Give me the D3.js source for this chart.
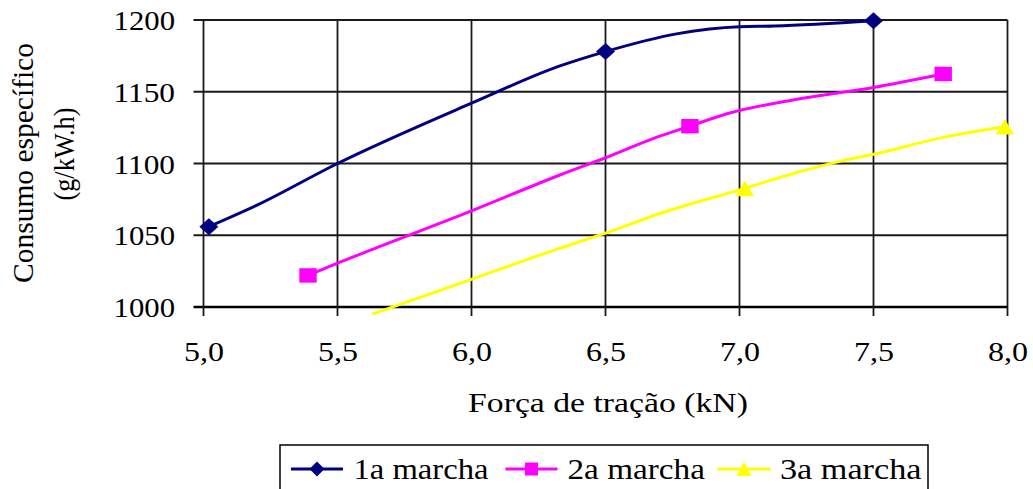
<!DOCTYPE html>
<html>
<head>
<meta charset="utf-8">
<script src="https://cdn.jsdelivr.net/npm/d3@7"></script>
<style>
  html, body { margin: 0; padding: 0; background: #fff; }
  svg { display: block; }
</style>
</head>
<body>
<svg id="chart" width="1033" height="489"></svg>
<script>
// ---------- data ----------
const xTicks = [5.0, 5.5, 6.0, 6.5, 7.0, 7.5, 8.0];
const xTickLabels = ["5,0", "5,5", "6,0", "6,5", "7,0", "7,5", "8,0"];
const yTicks = [1000, 1050, 1100, 1150, 1200];
const yTickLabels = ["1000", "1050", "1100", "1150", "1200"];
const seriesNames = ["1a marcha", "2a marcha", "3a marcha"];

// smoothed curve points (x in kN, y in g/kW.h)
const marcha1Line = [[5.02,1056],[5.2,1071],[5.5,1100],[6.0,1142],[6.33,1168],[6.5,1178],[6.77,1190.5],[7.0,1195.3],[7.13,1195.8],[7.5,1199.5]];
const marcha2Line = [[5.39,1022],[5.5,1030.5],[6.0,1067],[6.33,1092],[6.5,1104],[6.68,1117.5],[6.815,1126],[6.95,1134.5],[7.2,1144.3],[7.5,1153],[7.76,1162.4]];
const marcha3Line = [[5.63,995],[6.0,1019.3],[6.33,1041],[6.5,1051.5],[6.7,1065],[7.02,1082.7],[7.2,1093],[7.39,1102.2],[7.5,1106.4],[7.76,1118.2],[7.99,1125.6]];

// marked data points
const marcha1Points = [[5.02,1056],[6.5,1178],[7.5,1199.5]];
const marcha2Points = [[5.39,1022],[6.815,1126],[7.76,1162.4]];
const marcha3Points = [[7.02,1082.7],[7.99,1125.6]];

const FONT = "'Liberation Serif'";

// ---------- helpers ----------
// stretch text horizontally (the reference image is stretched) with a scale transform
function fit(textSel, tx, ty, targetW, rotate) {
  textSel.attr("x", 0).attr("y", 0).attr("dy", null);
  const w = textSel.node().getComputedTextLength();
  const k = targetW / w;
  textSel.attr("transform", rotate
    ? `translate(${tx},${ty}) rotate(-90) scale(${k},1)`
    : `translate(${tx},${ty}) scale(${k},1)`);
}

// ---------- layout ----------
const svg = d3.select("#chart");
const x = d3.scaleLinear().domain([5, 8]).range([203.5, 1007.5]);
const y = d3.scaleLinear().domain([1000, 1200]).range([307, 20]);

// gridlines
const g = svg.append("g");
g.selectAll("line.hgrid").data(yTicks).enter().append("line")
  .attr("x1", x(5) - 10).attr("x2", x(8))
  .attr("y1", d => y(d)).attr("y2", d => y(d))
  .attr("stroke", d => d === 1000 ? "#000" : "#1a1a1a")
  .attr("stroke-width", d => d === 1000 ? 2.6 : 1.8);
g.selectAll("line.vgrid").data(xTicks).enter().append("line")
  .attr("x1", d => x(d)).attr("x2", d => x(d))
  .attr("y1", y(1200)).attr("y2", y(1000) + 9)
  .attr("stroke", "#1a1a1a")
  .attr("stroke-width", 1.8);

// axis labels via d3 axes (tick text only)
const yAxis = d3.axisLeft(y).tickValues(yTicks).tickSize(0).tickPadding(0)
  .tickFormat((d, i) => yTickLabels[i]);
const yg = svg.append("g").attr("transform", "translate(175,0)").call(yAxis);
yg.attr("font-family", null).attr("font-size", null);
yg.select(".domain").remove();
yg.selectAll("text")
  .style("font-family", FONT).style("font-size", "27px").attr("fill", "#000")
  .attr("text-anchor", "end")
  .each(function () { fit(d3.select(this), 0, 9.5, 61.5); });

const xAxis = d3.axisBottom(x).tickValues(xTicks).tickSize(0).tickPadding(0)
  .tickFormat((d, i) => xTickLabels[i]);
const xg = svg.append("g").call(xAxis);
xg.attr("font-family", null).attr("font-size", null);
xg.select(".domain").remove();
xg.selectAll("text")
  .style("font-family", FONT).style("font-size", "28px").attr("fill", "#000")
  .attr("text-anchor", "middle")
  .each(function () { fit(d3.select(this), 0, 360.5, 40); });

// axis titles
fit(svg.append("text").attr("text-anchor", "middle")
  .style("font-family", FONT).style("font-size", "28px")
  .text("Força de tração (kN)"), 608, 411.5, 280);

fit(svg.append("text").attr("text-anchor", "middle")
  .style("font-family", FONT).style("font-size", "29px")
  .text("Consumo específico"), 33, 163, 240, true);
fit(svg.append("text").attr("text-anchor", "middle")
  .style("font-family", FONT).style("font-size", "29px")
  .text("(g/kW.h)"), 74, 154, 93, true);

// ---------- series ----------
const line = d3.line().x(d => x(d[0])).y(d => y(d[1])).curve(d3.curveMonotoneX);
const series = [
  { name: seriesNames[0], color: "#000080", line: marcha1Line, pts: marcha1Points, shape: "diamond" },
  { name: seriesNames[1], color: "#FF00FF", line: marcha2Line, pts: marcha2Points, shape: "square" },
  { name: seriesNames[2], color: "#FFFF00", line: marcha3Line, pts: marcha3Points, shape: "triangle" }
];

function marker(sel, shape, color, sx, sy) {
  if (shape === "diamond") {
    sel.append("path").attr("d", `M0,${-sy}L${sx},0L0,${sy}L${-sx},0Z`).attr("fill", color);
  } else if (shape === "square") {
    sel.append("rect").attr("x", -sx).attr("y", -sy).attr("width", 2 * sx).attr("height", 2 * sy).attr("fill", color);
  } else {
    sel.append("path").attr("d", `M0,${-sy}L${sx},${sy}L${-sx},${sy}Z`).attr("fill", color);
  }
}

series.forEach(s => {
  svg.append("path").datum(s.line)
    .attr("d", line).attr("fill", "none")
    .attr("stroke", s.color).attr("stroke-width", 3)
    .attr("stroke-linejoin", "round");
  const sizes = { diamond: [9.5, 8.5], square: [8.7, 7.2], triangle: [9.2, 7.8] }[s.shape];
  s.pts.forEach(p => {
    const m = svg.append("g").attr("transform", `translate(${x(p[0])},${y(p[1])})`);
    marker(m, s.shape, s.color, sizes[0], sizes[1]);
  });
});

// ---------- legend ----------
const legend = svg.append("g");
legend.append("rect")
  .attr("x", 280).attr("y", 445).attr("width", 648).attr("height", 60)
  .attr("fill", "#fff").attr("stroke", "#000").attr("stroke-width", 1.5);
const legItems = [
  { x0: 291, x1: 343, tx: 353.5, tw: 135 },
  { x0: 505.5, x1: 557.5, tx: 567.5, tw: 137.5 },
  { x0: 717.5, x1: 770.5, tx: 780, tw: 141.5 }
];
series.forEach((s, i) => {
  const it = legItems[i];
  legend.append("line").attr("x1", it.x0).attr("x2", it.x1).attr("y1", 469).attr("y2", 469)
    .attr("stroke", s.color).attr("stroke-width", 3);
  const m = legend.append("g").attr("transform", `translate(${(it.x0 + it.x1) / 2},469)`);
  const sz = { diamond: [7.5, 7.5], square: [6.5, 6.5], triangle: [7.5, 7] }[s.shape];
  marker(m, s.shape, s.color, sz[0], sz[1]);
  fit(legend.append("text")
    .style("font-family", FONT).style("font-size", "29px")
    .text(s.name), it.tx, 478.5, it.tw);
});
</script>
</body>
</html>
